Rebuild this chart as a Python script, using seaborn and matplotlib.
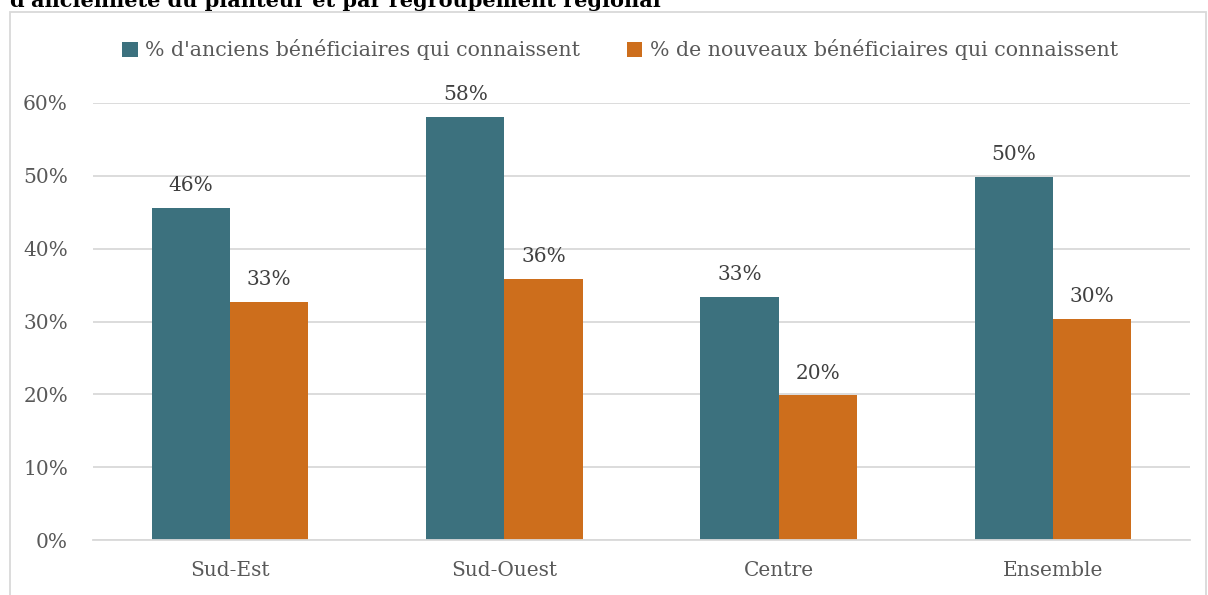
import matplotlib
matplotlib.use("Agg")
import matplotlib.pyplot as plt
from matplotlib.patches import Rectangle
import seaborn as sns
import pandas as pd

regions = ["Sud-Est", "Sud-Ouest", "Centre", "Ensemble"]
series_names = ["% d'anciens bénéficiaires qui connaissent",
                "% de nouveaux bénéficiaires qui connaissent"]
anciens = [45.6, 58.1, 33.4, 49.9]
nouveaux = [32.7, 35.9, 19.9, 30.4]
y_ticks = [0, 10, 20, 30, 40, 50, 60]
title_text = "d'ancienneté du planteur et par regroupement régional"

colors = ["#3C717E", "#CD6E1C"]
text_gray = "#595959"

df = pd.DataFrame({
    "region": regions * 2,
    "serie": [series_names[0]] * 4 + [series_names[1]] * 4,
    "valeur": anciens + nouveaux,
})

sns.set_theme(style="white")
plt.rcParams["font.family"] = ["DejaVu Serif"]

W, H = 1208, 595
fig = plt.figure(figsize=(W / 100, H / 100), dpi=100)
ax = fig.add_axes([93 / W, 1 - 540 / H, (1190 - 93) / W, (540 - 103) / H])

sns.barplot(data=df, x="region", y="valeur", hue="serie", palette=colors,
            width=0.57, gap=0, saturation=1, ax=ax, edgecolor="none")

ax.set_ylim(0, 60)
ax.set_xlim(-0.5, 3.5)
ax.set_yticks(y_ticks)
ax.set_yticklabels([f"{t}%" for t in y_ticks])
ax.yaxis.grid(True, color="#D9D9D9", linewidth=1.3)
ax.set_axisbelow(True)
for s in ["top", "right", "left"]:
    ax.spines[s].set_visible(False)
ax.spines["bottom"].set_color("#D9D9D9")
ax.spines["bottom"].set_linewidth(1.3)
ax.tick_params(axis="both", length=0, labelsize=14.5, colors=text_gray)
ax.tick_params(axis="x", pad=15)
ax.tick_params(axis="y", pad=18)
ax.set_xlabel("")
ax.set_ylabel("")

for cont in ax.containers:
    ax.bar_label(cont, labels=[f"{v:.0f}%" for v in cont.datavalues],
                 padding=9, fontsize=14.5, color="#404040")

leg = ax.legend(ncol=2, loc="center", bbox_to_anchor=(0.5 + 16 / W, 1 - 50 / H),
                bbox_transform=fig.transFigure, frameon=False,
                fontsize=14.8, handlelength=0.75, handleheight=0.75,
                handletextpad=0.35, columnspacing=2.3)
for t in leg.get_texts():
    t.set_color(text_gray)

# outer chart frame
fig.patches.append(Rectangle((10 / W, -0.05), (W - 12) / W, 1.05 - 12 / H,
                             transform=fig.transFigure, fill=False,
                             edgecolor="#D9D9D9", linewidth=1.3))

fig.text(10 / W, 1 - 7 / H, title_text, fontsize=15, fontweight="bold",
         color="black", va="baseline", ha="left")

fig.savefig("out.png", dpi=100)
